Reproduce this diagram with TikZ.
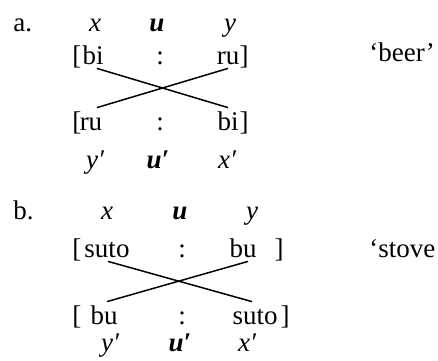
\documentclass[tikz,border=0pt]{standalone}
\usepackage{fontspec}
\setmainfont{Liberation Serif}
\usetikzlibrary{positioning}

\begin{document}
\begin{tikzpicture}[
    x=0.5pt, y=-0.5pt,
    % Text styles
    exlabel/.style={anchor=base west, inner sep=0pt, font=\fontsize{13.5}{16}\selectfont},
    varlabel/.style={anchor=base, inner sep=1pt, font=\fontsize{13.5}{16}\selectfont\itshape},
    uvarlabel/.style={anchor=base, inner sep=1pt, font=\fontsize{13.5}{16}\selectfont\bfseries\itshape},
    syllable/.style={anchor=base, inner sep=2pt, text height=9pt, text depth=0pt,
        font=\fontsize{13.5}{16}\selectfont},
    bracket/.style={inner sep=0pt, font=\fontsize{13.5}{16}\selectfont},
    gloss/.style={anchor=base west, inner sep=0pt, font=\fontsize{13.5}{16}\selectfont},
    swapline/.style={line width=0.75pt, draw=black},
]
\useasboundingbox (0,0) rectangle (438,360);

% ============ (a) bi : ru ============
\node[exlabel] (labelA) at (13,31) {a.};
\node[varlabel] (xA) at (95,31) {x};
\node[uvarlabel] (uA) at (157,31) {u};
\node[varlabel] (yA) at (230,31) {y};

\node[bracket, anchor=base west] (lbrA) at (72,64) {[};
\node[syllable] (biA) at (93,64) {bi};
\node[syllable] (colA) at (160,64) {:};
\node[syllable] (ruA) at (228,64) {ru};
\node[bracket, anchor=base east] (rbrA) at (249,64) {]};
\node[gloss] (glossA) at (369,61) {‘beer’};

\node[bracket, anchor=base west] (lbrA2) at (72,130) {[};
\node[syllable] (ruB) at (91,130) {ru};
\node[syllable] (colA2) at (160,130) {:};
\node[syllable] (biB) at (228,130) {bi};
\node[bracket, anchor=base east] (rbrA2) at (249,130) {]};

\node[varlabel] (yA2) at (95,168) {y′};
\node[uvarlabel] (uA2) at (158,168) {u′};
\node[varlabel] (xA2) at (227,168) {x′};

% ============ (b) suto : bu ============
\node[exlabel] (labelB) at (13,219) {b.};
\node[varlabel] (xB) at (107,219) {x};
\node[uvarlabel] (uB) at (180,219) {u};
\node[varlabel] (yB) at (252,219) {y};

\node[bracket, anchor=base west] (lbrB) at (72,257) {[};
\node[syllable] (sutoA) at (107,257) {suto};
\node[syllable] (colB) at (182,257) {:};
\node[syllable] (buA) at (243,257) {bu};
\node[bracket, anchor=base east] (rbrB) at (284,257) {]};
\node[gloss] (glossB) at (369,257) {‘stove};

\node[bracket, anchor=base west] (lbrB2) at (72,324) {[};
\node[syllable] (buB) at (104,324) {bu};
\node[syllable] (colB2) at (182,324) {:};
\node[syllable] (sutoB) at (255,324) {suto};
\node[bracket, anchor=base east] (rbrB2) at (290,324) {]};

\node[varlabel] (yB2) at (110,351) {y′};
\node[uvarlabel] (uB2) at (180,351) {u′};
\node[varlabel] (xB2) at (247,351) {x′};

% ============ Crossing lines ============
\draw[swapline] ([xshift=2pt]biA.south) -- (biB.north);
\draw[swapline] ([xshift=3pt]ruB.north) -- (ruA.south);
\draw[swapline] ([xshift=0.5pt]sutoA.south) -- ([xshift=-1.5pt]sutoB.north);
\draw[swapline] ([xshift=1.5pt]buB.north) -- ([xshift=2.5pt]buA.south);

\end{tikzpicture}
\end{document}
